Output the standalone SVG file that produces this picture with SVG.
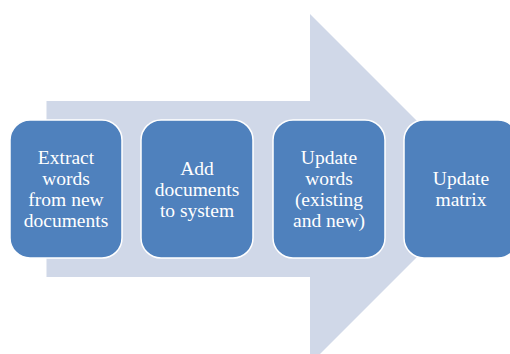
<svg xmlns="http://www.w3.org/2000/svg" width="510" height="354" viewBox="0 0 510 354">
<style>
.bg{fill:#ffffff}
.arrow{fill:#D0D8E8}
.box{fill:#4F81BD;stroke:#ffffff;stroke-width:1.5}
.t{font-family:"Liberation Serif","Times New Roman",serif;font-size:19.5px;fill:#ffffff;text-anchor:middle}
</style>
<rect class="bg" x="0" y="0" width="510" height="354"/>
<g id="connectors">
<path class="arrow" d="M46.5,101 H310 V14 L485,189 L310,364 V277 H46.5 Z"/>
</g>
<g id="node1">
<rect class="box" x="10" y="120" width="112" height="138" rx="20" ry="20"/>
<text class="t" x="66" y="164">Extract</text>
<text class="t" x="66" y="185">words</text>
<text class="t" x="66" y="206">from new</text>
<text class="t" x="66" y="227">documents</text>
</g>
<g id="node2">
<rect class="box" x="141" y="120" width="112" height="138" rx="20" ry="20"/>
<text class="t" x="197" y="175">Add</text>
<text class="t" x="197" y="196">documents</text>
<text class="t" x="197" y="217">to system</text>
</g>
<g id="node3">
<rect class="box" x="273" y="120" width="112" height="138" rx="20" ry="20"/>
<text class="t" x="329" y="164">Update</text>
<text class="t" x="329" y="185">words</text>
<text class="t" x="329" y="206">(existing</text>
<text class="t" x="329" y="227">and new)</text>
</g>
<g id="node4">
<rect class="box" x="404" y="120" width="114" height="138" rx="20" ry="20"/>
<text class="t" x="461" y="185">Update</text>
<text class="t" x="461" y="206">matrix</text>
</g>
</svg>
